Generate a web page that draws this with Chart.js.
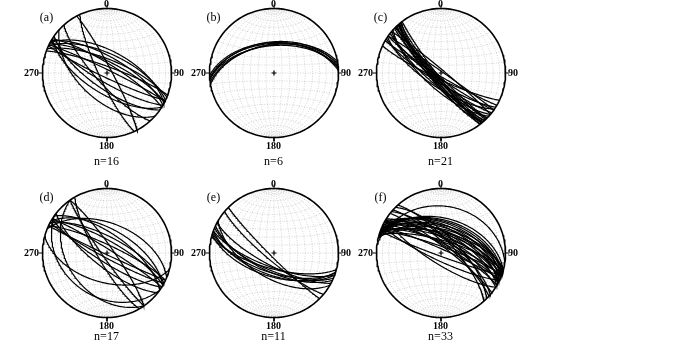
<!DOCTYPE html>
<html>
<head>
<meta charset="utf-8">
<script src="https://cdn.jsdelivr.net/npm/chart.js@4.4.0/dist/chart.umd.min.js"></script>
<style>
body { margin: 0; background: #fff; }
#wrap { position: relative; width: 700px; height: 340px; overflow: hidden; font-family: "Liberation Serif", "Times New Roman", serif; }
canvas { position: absolute; }
.lbl { position: absolute; transform: translate(-50%, -50%); white-space: nowrap; color: #000; line-height: 1; }
.az { font-size: 10px; font-weight: bold; }
.cnt { font-size: 12px; }
.pn { font-size: 12px; }
</style>
</head>
<body>
<div id="wrap"></div>
<script>
// plane attitudes: [dip direction, dip] in degrees
const panelLabels = ['(a)', '(b)', '(c)', '(d)', '(e)', '(f)'];
const sampleCounts = [16, 6, 21, 17, 11, 33];
const azimuthLabels = ['0', '90', '180', '270'];

const planesA = [[28, 62], [25, 66], [30, 70], [22, 73], [27, 76], [32, 79], [20, 82], [26, 86],
    [205, 84], [210, 78], [215, 70], [212, 64], [245, 80], [62, 84], [228, 76], [222, 55]];
const planesB = [[354, 50], [356, 52], [352, 54], [358, 51], [355, 55], [350, 53]];
const planesC = [[228, 82], [230, 80], [226, 84], [232, 78], [225, 86], [229, 79], [231, 83], [227, 77],
    [224, 81], [233, 85], [230, 76], [218, 80], [215, 84], [212, 78], [220, 74], [210, 86], [214, 72],
    [40, 86], [35, 88], [222, 70], [205, 82]];
const planesD = [[22, 52], [195, 52], [235, 38], [215, 32], [240, 78], [235, 84], [55, 82],
    [28, 70], [30, 75], [25, 80], [32, 85], [35, 66], [208, 84], [212, 78], [205, 88], [218, 72], [30, 60]];
const planesE = [[200, 62], [198, 65], [203, 68], [195, 70], [205, 66], [200, 72], [197, 60], [208, 74],
    [210, 58], [220, 80], [225, 85]];
const planesF = [[8, 28], [212, 76], [40, 72], [45, 68], [42, 78], [48, 74], [38, 82],
    [15, 45], [18, 48], [20, 50], [22, 52], [17, 55], [25, 55], [20, 58], [28, 58], [15, 60], [22, 62],
    [26, 63], [30, 65], [18, 66], [24, 68], [20, 70], [28, 71], [32, 73], [16, 74], [22, 76], [26, 78],
    [30, 80], [20, 82], [24, 85], [14, 64], [200, 86], [205, 80]];

const panelPlanes = [planesA, planesB, planesC, planesD, planesE, planesF];

// layout
const panelCenters = [[106.5, 73], [273.5, 73], [440.5, 73], [106.5, 253], [273.5, 253], [440.5, 253]];
const netRadius = 64.5;
const canvasSize = 150;
const span = (canvasSize / 2) / netRadius;

const rad = Math.PI / 180;

// lower hemisphere, equal-area (Schmidt) projection of a unit vector (north, east, down)
function project(n, e, d) {
    const h = Math.sqrt(n * n + e * e);
    const r = Math.sqrt(Math.max(0, 1 - d));
    if (h < 1e-9) return { x: 0, y: 0 };
    return { x: r * e / h, y: r * n / h };
}

function greatCircle(dd, dip) {
    const s = (dd - 90) * rad, a = dd * rad, b = dip * rad;
    const S = [Math.cos(s), Math.sin(s), 0];
    const D = [Math.cos(b) * Math.cos(a), Math.cos(b) * Math.sin(a), Math.sin(b)];
    const pts = [];
    for (let i = 0; i <= 120; i++) {
        const t = i / 120 * Math.PI;
        const c = Math.cos(t), sn = Math.sin(t);
        pts.push(project(S[0] * c + D[0] * sn, S[1] * c + D[1] * sn, S[2] * c + D[2] * sn));
    }
    return pts;
}

// small circle about the N-S horizontal axis, cone half-angle alpha
function smallCircle(alpha) {
    const al = alpha * rad;
    const pts = [];
    for (let i = 0; i <= 90; i++) {
        const p = i / 90 * Math.PI;
        pts.push(project(Math.cos(al), Math.sin(al) * Math.cos(p), Math.sin(al) * Math.sin(p)));
    }
    return pts;
}

function primitive() {
    const pts = [];
    for (let i = 0; i <= 180; i++) {
        const t = i / 180 * 2 * Math.PI;
        pts.push({ x: Math.sin(t), y: Math.cos(t) });
    }
    return pts;
}

function line(pts, color, width, dash, order) {
    return {
        data: pts, showLine: true, pointRadius: 0, pointHoverRadius: 0, borderColor: color, borderWidth: width,
        borderDash: dash || [], fill: false, order: order, tension: 0
    };
}

function buildDatasets(planes) {
    const sets = [];
    sets.push(line(primitive(), '#000', 1.6, null, 0));
    // direction ticks at N, E, S, W
    [[0, 1], [1, 0], [0, -1], [-1, 0]].forEach(([ux, uy]) => {
        sets.push(line([{ x: ux, y: uy }, { x: ux * 1.06, y: uy * 1.06 }], '#000', 1, null, 0));
    });
    sets.push({
        data: [{ x: 0, y: 0 }], pointStyle: 'cross', pointRadius: 2.5, pointHoverRadius: 0, borderColor: '#000',
        borderWidth: 1.2, showLine: false, order: 0
    });
    planes.forEach(([dd, dip]) => sets.push(line(greatCircle(dd, dip), '#000', 1.2, null, 1)));
    const gridColor = 'rgba(120,120,120,0.45)';
    for (let dip = 10; dip <= 90; dip += 10) {
        sets.push(line(greatCircle(90, dip), gridColor, 0.7, [1, 1.5], 2));
        if (dip < 90) sets.push(line(greatCircle(270, dip), gridColor, 0.7, [1, 1.5], 2));
    }
    for (let a = 10; a <= 170; a += 10) {
        sets.push(line(smallCircle(a), gridColor, 0.7, [1, 1.5], 2));
    }
    return sets;
}

const wrap = document.getElementById('wrap');

function addLabel(text, x, y, cls) {
    const el = document.createElement('div');
    el.className = 'lbl ' + cls;
    el.style.left = x + 'px';
    el.style.top = y + 'px';
    el.textContent = text;
    wrap.appendChild(el);
}

panelPlanes.forEach((planes, i) => {
    const [cx, cy] = panelCenters[i];
    const cv = document.createElement('canvas');
    cv.width = canvasSize;
    cv.height = canvasSize;
    cv.style.left = (cx - canvasSize / 2) + 'px';
    cv.style.top = (cy - canvasSize / 2) + 'px';
    wrap.appendChild(cv);

    new Chart(cv, {
        type: 'scatter',
        data: { datasets: buildDatasets(planes) },
        options: {
            responsive: false,
            animation: false,
            events: [],
            layout: { padding: 0, autoPadding: false },
            plugins: { legend: { display: false }, tooltip: { enabled: false } },
            scales: {
                x: { type: 'linear', min: -span, max: span, display: false },
                y: { type: 'linear', min: -span, max: span, display: false }
            }
        }
    });

    addLabel(azimuthLabels[0], cx, cy - netRadius - 5, 'az');
    addLabel(azimuthLabels[1], cx + netRadius + 8, cy, 'az');
    addLabel(azimuthLabels[2], cx, cy + netRadius + 8, 'az');
    addLabel(azimuthLabels[3], cx - netRadius - 10.5, cy, 'az');
    addLabel('n=' + sampleCounts[i], cx, cy + netRadius + (i < 3 ? 23 : 18), 'cnt');
    addLabel(panelLabels[i], cx - 60, cy - 56, 'pn');
});
</script>
</body>
</html>
